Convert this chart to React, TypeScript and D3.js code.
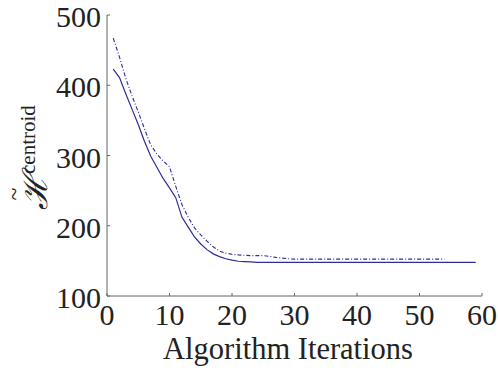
import React from "react";
import * as d3 from "d3";

const iterSolid = d3.range(1, 60);
const valuesSolid = [
  423, 411, 388, 366, 344, 320, 299, 283, 267, 254,
  240, 212, 198, 184, 174, 166, 160, 156, 153, 151,
  149.5, 149, 148.5, 148, 148, 148, 148, 148, 148, 148,
  148, 148, 148, 148, 148, 148, 148, 148, 148, 148,
  148, 148, 148, 148, 148, 148, 148, 148, 148, 148,
  148, 148, 148, 148, 148, 148, 148, 148, 148,
];
const iterDashed = d3.range(1, 55);
const valuesDashed = [
  467, 440, 410, 385, 362, 338, 315, 302, 292, 284,
  256, 230, 212, 197, 187, 178, 170, 164, 161, 159.5,
  158.5, 158, 157.5, 157.5, 157.5, 156.5, 155, 154, 153, 152.5,
  152.5, 152.5, 152.5, 152.5, 152.5, 152.5, 152.5, 152.5, 152.5, 152.5,
  152.5, 152.5, 152.5, 152.5, 152.5, 152.5, 152.5, 152.5, 152.5, 152.5,
  152.5, 152.5, 152.5, 152.5,
];
const xTicks = [0, 10, 20, 30, 40, 50, 60];
const yTicks = [100, 200, 300, 400, 500];

export default function App() {
  const W = 498, H = 371;
  const x = d3.scaleLinear().domain([0, 60]).range([107, 482]);
  const y = d3.scaleLinear().domain([100, 500]).range([296, 15]);
  const line = d3.line<[number, number]>().x(d => x(d[0])).y(d => y(d[1]));
  const solid = line(iterSolid.map((t, i) => [t, valuesSolid[i]]))!;
  const dashed = line(iterDashed.map((t, i) => [t, valuesDashed[i]]))!;
  const fs = { fontFamily: "'Liberation Serif', serif" };
  const axisColor = "#666";
  const lineColor = "#2c2c9c";
  const tickFont = 30;
  return (
    <svg width={W} height={H} style={{ position: "absolute", left: 0, top: 0, background: "#fff", fontFamily: "serif" }}>
      <line x1={x(0)} x2={x(0)} y1={y(500)} y2={y(100)} stroke={axisColor} strokeWidth={1} />
      <line x1={x(0)} x2={x(60)} y1={y(100)} y2={y(100)} stroke={axisColor} strokeWidth={1} />
      {yTicks.map(t => (
        <g key={"y" + t}>
          <line x1={x(0)} x2={x(0) + 3} y1={y(t)} y2={y(t)} stroke={axisColor} />
          <text x={x(0) - 6} y={y(t) + 12} textAnchor="end" style={fs} fontSize={tickFont} fill="#222">{t}</text>
        </g>
      ))}
      {xTicks.map(t => (
        <g key={"x" + t}>
          <line x1={x(t)} x2={x(t)} y1={y(100)} y2={y(100) - 3} stroke={axisColor} />
          <text x={x(t)} y={325} textAnchor="middle" style={fs} fontSize={tickFont} fill="#222">{t}</text>
        </g>
      ))}
      <text x={288} y={359} textAnchor="middle" style={fs} fontSize={30.5} fill="#222">Algorithm Iterations</text>
      <g transform="translate(47,210) rotate(-90)">
        <text x={0} y={0} style={fs} fill="#222">
          <tspan fontSize={34} fontStyle="italic">ℋ</tspan>
          <tspan fontSize={21} dy={-12}>centroid</tspan>
        </text>
        <text x={16} y={-25} style={fs} fontSize={24} fill="#222" textAnchor="middle">~</text>
      </g>
      <path d={solid} fill="none" stroke={lineColor} strokeWidth={1.2} />
      <path d={dashed} fill="none" stroke={lineColor} strokeWidth={1.1} strokeDasharray="4,2,1,2" />
    </svg>
  );
}
